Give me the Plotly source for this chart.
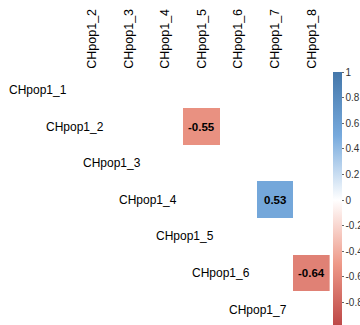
import plotly.graph_objects as go

# Correlation matrix (upper triangle, significant coefficients only)
row_names = ["CHpop1_1", "CHpop1_2", "CHpop1_3", "CHpop1_4", "CHpop1_5", "CHpop1_6", "CHpop1_7"]
col_names = ["CHpop1_2", "CHpop1_3", "CHpop1_4", "CHpop1_5", "CHpop1_6", "CHpop1_7", "CHpop1_8"]
sig_rows = ["CHpop1_2", "CHpop1_4", "CHpop1_6"]
sig_cols = ["CHpop1_5", "CHpop1_7", "CHpop1_8"]
sig_vals = [-0.55, 0.53, -0.64]

cbar_ticks = [1, 0.8, 0.6, 0.4, 0.2, 0, -0.2, -0.4, -0.6, -0.8, -1]

# numeric grid positions: column CHpop1_k sits at x=k, row CHpop1_r at y=r
def idx(name):
    return int(name.split("_")[1])

x_pos = [idx(c) for c in col_names]
y_pos = [idx(r) for r in row_names]
z = [[None for _ in col_names] for _ in row_names]
for r, c, v in zip(sig_rows, sig_cols, sig_vals):
    z[row_names.index(r)][col_names.index(c)] = v

palette = ["#BB4444", "#EE9988", "#FFFFFF", "#77AADD", "#4477AA"]
colorscale = [[i / (len(palette) - 1), col] for i, col in enumerate(palette)]

W, H = 360, 325
fig = go.Figure()
fig.add_trace(go.Heatmap(
    x=x_pos, y=y_pos, z=z,
    zmin=-1, zmax=1, colorscale=colorscale,
    hoverongaps=False,
    colorbar=dict(
        x=333 / W, xanchor="left", xpad=0,
        y=(H - 72) / H, yanchor="top", ypad=0,
        lenmode="pixels", len=256,
        thickness=9, outlinewidth=0,
        tickvals=cbar_ticks, ticktext=[f"{t:g}" for t in cbar_ticks],
        ticks="outside", ticklen=2, tickcolor="#666666",
        tickfont=dict(family="Liberation Sans, Arial", size=10, color="#333333"),
    ),
))

# coefficient labels on the significant cells
for r, c, v in zip(sig_rows, sig_cols, sig_vals):
    fig.add_annotation(x=idx(c), y=idx(r), text=f"<b>{v:.2f}</b>", showarrow=False,
                       font=dict(family="Liberation Sans, Arial", size=11.5, color="black"))

# diagonal row labels
for r in row_names:
    i = idx(r)
    fig.add_annotation(x=i + 0.38, y=i, text=r, showarrow=False, xanchor="right",
                       font=dict(family="Liberation Sans, Arial", size=12, color="black"))

cell = 36.6
x0_px = 92 - 1.5 * cell
x1_px = 92 + 6.5 * cell
top_px = 90 - cell / 2
y_bottom = 0.5 + (H - top_px) / cell

fig.update_layout(
    width=W, height=H, margin=dict(l=0, r=0, t=0, b=0, autoexpand=False),
    paper_bgcolor="white", plot_bgcolor="white",
    showlegend=False,
    xaxis=dict(domain=[x0_px / W, x1_px / W], range=[0.5, 8.5], side="top",
               tickvals=x_pos, ticktext=col_names, tickangle=-90,
               ticks="", showgrid=False, zeroline=False, showline=False,
               ticklabelstandoff=2,
               tickfont=dict(family="Liberation Sans, Arial", size=12.5, color="black")),
    yaxis=dict(domain=[0, (H - top_px) / H], range=[y_bottom, 0.5],
               showticklabels=False, ticks="", showgrid=False, zeroline=False, showline=False),
)

fig.write_html("out.html")
